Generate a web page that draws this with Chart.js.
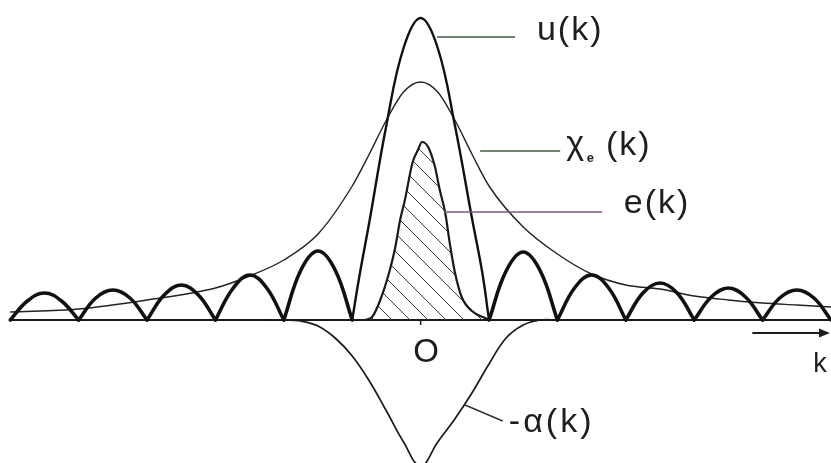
<!DOCTYPE html>
<html lang="en">
<head>
    <meta charset="UTF-8">
    <meta name="viewport" content="width=device-width, initial-scale=1.0">
    <title>u(k), χe(k), e(k), -α(k)</title>
    <style>
        html, body {
            margin: 0;
            padding: 0;
            background-color: white;
        }
        .chart-container {
            position: relative;
            width: 831px;
            height: 463px;
        }
    </style>
    <script src="https://cdn.jsdelivr.net/npm/chart.js"></script>
</head>
<body>
    <div class="chart-container">
        <canvas id="kChart"></canvas>
    </div>

    <script>
        // u(k): one arch per interval, a null splits the arches at the cusps
        const uK = [
            -6, -5.75, -5.5, -5.25, -5, -5,
            -5, -4.75, -4.5, -4.25, -4, -4,
            -4, -3.75, -3.5, -3.25, -3, -3,
            -3, -2.75, -2.5, -2.25, -2, -2,
            -2, -1.75, -1.5, -1.25, -1, -1,
            -1, -0.9, -0.75, -0.5, -0.25, 0, 0.25, 0.5, 0.75, 0.9, 1, 1,
            1, 1.25, 1.5, 1.75, 2, 2,
            2, 2.25, 2.5, 2.75, 3, 3,
            3, 3.25, 3.5, 3.75, 4, 4,
            4, 4.25, 4.5, 4.75, 5, 5,
            5, 5.25, 5.5, 5.75, 6
        ];
        const uVal = [
            0, 0.19, 0.27, 0.19, 0, null,
            0, 0.22, 0.30, 0.22, 0, null,
            0, 0.25, 0.35, 0.25, 0, null,
            0, 0.31, 0.45, 0.32, 0, null,
            0, 0.50, 0.69, 0.50, 0, null,
            0, 0.42, 0.98, 1.95, 2.72, 3.02, 2.72, 1.95, 1.02, 0.48, 0, null,
            0, 0.49, 0.68, 0.49, 0, null,
            0, 0.32, 0.45, 0.32, 0, null,
            0, 0.27, 0.37, 0.27, 0, null,
            0, 0.23, 0.32, 0.23, 0, null,
            0, 0.22, 0.30, 0.22, 0
        ];

        // χe(k): the envelope
        const chiK = [-6, -5, -4, -3, -2.5, -2, -1.5, -1, -0.75, -0.5, -0.25, 0,
                      0.25, 0.5, 0.75, 1, 1.5, 2, 2.5, 3, 3.5, 4, 4.5, 5, 5.5, 6];
        const chiVal = [0.08, 0.11, 0.20, 0.32, 0.44, 0.60, 0.86, 1.34, 1.66, 2.00, 2.28, 2.38,
                        2.28, 2.00, 1.66, 1.34, 0.93, 0.66, 0.46, 0.35, 0.31, 0.24, 0.20, 0.17, 0.15, 0.13];

        // e(k): hatched peak
        const eK = [-0.82, -0.71, -0.59, -0.45, -0.37, -0.30, -0.23, -0.12, -0.04, 0.02,
                    0.11, 0.21, 0.28, 0.36, 0.43, 0.50, 0.60, 0.75, 0.94, 1.01];
        const eVal = [0, 0.03, 0.20, 0.50, 0.73, 1.00, 1.20, 1.57, 1.70, 1.78,
                      1.73, 1.53, 1.30, 1.07, 0.75, 0.48, 0.23, 0.09, 0.02, 0];

        // -α(k): the dip below the axis
        const alphaK = [-2.25, -2.0, -1.75, -1.5, -1.25, -1.0, -0.75, -0.5, -0.25, 0,
                        0.25, 0.5, 0.75, 1.0, 1.25, 1.5, 1.75, 2.0];
        const alphaVal = [0, 0, -0.01, -0.06, -0.18, -0.36, -0.61, -0.91, -1.22, -1.46,
                          -1.22, -0.99, -0.73, -0.44, -0.18, -0.05, 0, 0];

        const kMin = -6.15;
        const kMax = 6.0;
        const labelFont = '"Liberation Sans", Arial, sans-serif';

        function toPoints(ks, vals) {
            return ks.map((k, i) => ({ x: k, y: vals[i] }));
        }

        function makeHatch() {
            const size = 18;
            const c = document.createElement('canvas');
            c.width = size;
            c.height = size;
            const g = c.getContext('2d');
            g.strokeStyle = '#3a3a3a';
            g.lineWidth = 1;
            g.beginPath();
            g.moveTo(-2, -2); g.lineTo(size + 2, size + 2);
            g.moveTo(-2, size - 2); g.lineTo(2, size + 2);
            g.moveTo(size - 2, -2); g.lineTo(size + 2, 2);
            g.stroke();
            return g.createPattern(c, 'repeat');
        }

        function drawLabel(ctx, text, x, y, size, spacing) {
            ctx.font = `${size}px ${labelFont}`;
            ctx.letterSpacing = spacing + 'px';
            ctx.fillText(text, x, y);
            ctx.letterSpacing = '0px';
        }

        // axis line, leader lines and the hand lettering
        const sketchMarks = {
            id: 'sketchMarks',
            beforeDatasetsDraw(chart) {
                const { ctx, chartArea, scales: { x, y } } = chart;
                const y0 = y.getPixelForValue(0);
                ctx.save();
                ctx.strokeStyle = '#1a1a1a';
                ctx.lineWidth = 2;
                ctx.beginPath();
                ctx.moveTo(x.getPixelForValue(-6), y0);
                ctx.lineTo(chartArea.right, y0);
                ctx.stroke();
                ctx.lineWidth = 1.5;
                ctx.beginPath();
                ctx.moveTo(x.getPixelForValue(0), y0);
                ctx.lineTo(x.getPixelForValue(0), y.getPixelForValue(-0.05));
                ctx.stroke();
                ctx.restore();
            },
            afterDatasetsDraw(chart) {
                const { ctx, scales: { x, y } } = chart;
                const px = k => x.getPixelForValue(k);
                const py = v => y.getPixelForValue(v);
                const leader = (k0, v0, k1, v1, color) => {
                    ctx.strokeStyle = color;
                    ctx.lineWidth = 1.5;
                    ctx.beginPath();
                    ctx.moveTo(px(k0), py(v0));
                    ctx.lineTo(px(k1), py(v1));
                    ctx.stroke();
                };
                ctx.save();
                leader(0.24, 2.83, 1.38, 2.83, '#3d5e40');
                leader(0.87, 1.69, 2.04, 1.69, '#3d5e40');
                leader(0.34, 1.08, 2.65, 1.08, '#7a5878');
                leader(0.65, -0.85, 1.20, -1.01, '#333333');

                ctx.fillStyle = '#1e1e1e';
                ctx.textBaseline = 'alphabetic';
                ctx.textAlign = 'left';
                drawLabel(ctx, 'u(k)', px(1.70), py(2.80), 34, 2);
                drawLabel(ctx, 'χ', px(2.13), py(1.66), 34, 0);
                ctx.font = `bold 13px ${labelFont}`;
                ctx.fillText('e', px(2.43), py(1.58));
                drawLabel(ctx, '(k)', px(2.71), py(1.65), 34, 2);
                drawLabel(ctx, 'e(k)', px(2.97), py(1.07), 34, 2);
                drawLabel(ctx, '-α(k)', px(1.29), py(-1.12), 34, 3);

                ctx.textAlign = 'center';
                drawLabel(ctx, 'O', px(0.08), py(-0.42), 33, 0);
                ctx.textAlign = 'left';
                drawLabel(ctx, 'k', px(5.74), py(-0.52), 27, 0);

                // arrow pointing along +k
                const ay = py(-0.13);
                const ax0 = px(4.85);
                const ax1 = px(5.985);
                ctx.strokeStyle = '#1e1e1e';
                ctx.lineWidth = 1.8;
                ctx.beginPath();
                ctx.moveTo(ax0, ay);
                ctx.lineTo(ax1 - 8, ay);
                ctx.stroke();
                ctx.fillStyle = '#1e1e1e';
                ctx.beginPath();
                ctx.moveTo(ax1, ay);
                ctx.lineTo(ax1 - 11, ay - 4.5);
                ctx.lineTo(ax1 - 11, ay + 4.5);
                ctx.closePath();
                ctx.fill();
                ctx.restore();
            }
        };

        function createChart() {
            const ctx = document.getElementById('kChart').getContext('2d');
            new Chart(ctx, {
                type: 'line',
                data: {
                    datasets: [
                        {
                            label: 'u(k)',
                            data: toPoints(uK, uVal),
                            borderColor: '#111111',
                            borderWidth: 3.4,
                            tension: 0.4,
                            spanGaps: false,
                            borderCapStyle: 'round',
                            borderJoinStyle: 'round',
                            segment: {
                                borderWidth: c => (c.p0.parsed.x >= -1 && c.p1.parsed.x <= 1) ? 2.4 : 3.6
                            }
                        },
                        {
                            label: 'χe(k)',
                            data: toPoints(chiK, chiVal),
                            borderColor: '#222222',
                            borderWidth: 1.4,
                            cubicInterpolationMode: 'monotone'
                        },
                        {
                            label: 'e(k)',
                            data: toPoints(eK, eVal),
                            borderColor: '#1a1a1a',
                            borderWidth: 2.2,
                            cubicInterpolationMode: 'monotone',
                            fill: 'origin',
                            backgroundColor: makeHatch()
                        },
                        {
                            label: '-α(k)',
                            data: toPoints(alphaK, alphaVal),
                            borderColor: '#1a1a1a',
                            borderWidth: 1.7,
                            tension: 0.4
                        }
                    ]
                },
                options: {
                    responsive: true,
                    maintainAspectRatio: false,
                    animation: false,
                    layout: { padding: 0 },
                    elements: { point: { radius: 0 } },
                    scales: {
                        x: { type: 'linear', min: kMin, max: kMax, display: false },
                        y: { min: -1.43, max: 3.20, display: false }
                    },
                    plugins: {
                        legend: { display: false },
                        tooltip: { enabled: false }
                    }
                },
                plugins: [sketchMarks]
            });
        }

        createChart();
    </script>
</body>
</html>
